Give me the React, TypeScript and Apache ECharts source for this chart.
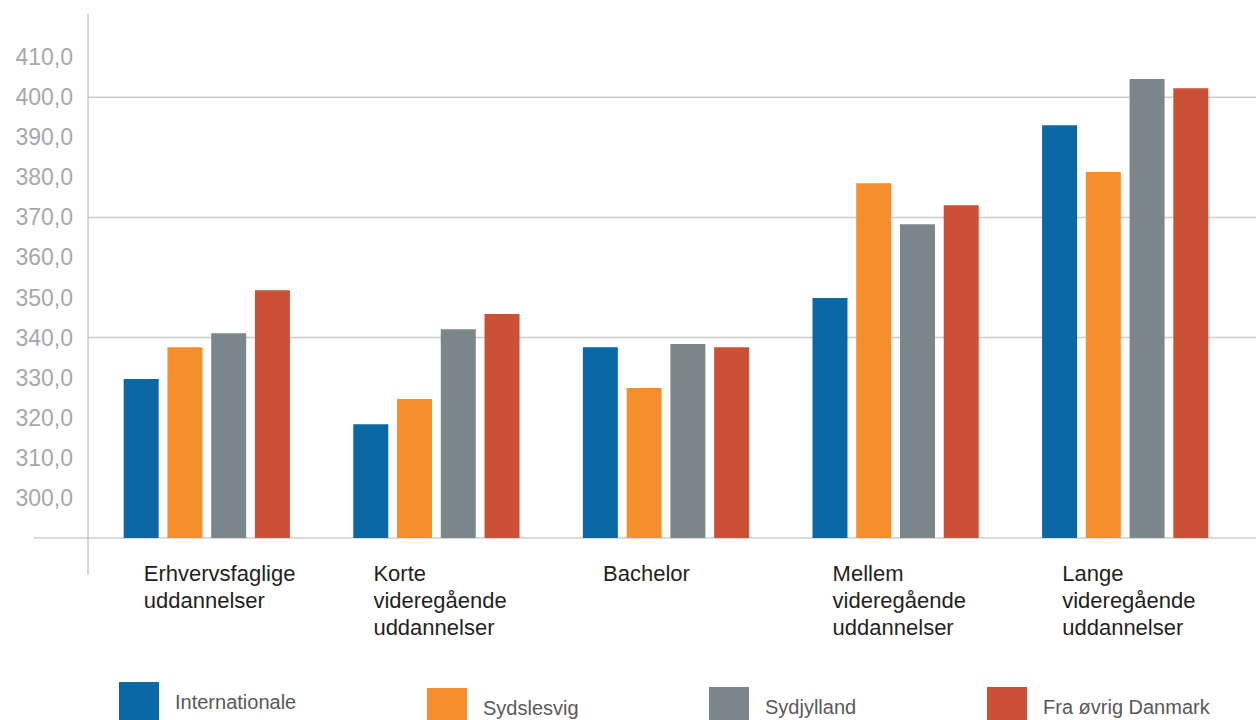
import React, { useEffect, useRef } from "react";
import * as echarts from "echarts";

const categories = [
  "Erhvervsfaglige\nuddannelser",
  "Korte\nvideregående\nuddannelser",
  "Bachelor",
  "Mellem\nvideregående\nuddannelser",
  "Lange\nvideregående\nuddannelser",
];
const seriesNames = ["Internationale", "Sydslesvig", "Sydjylland", "Fra øvrig Danmark"];
const internationale = [329.7, 318.4, 337.6, 349.9, 393.0];
const sydslesvig = [337.6, 324.7, 327.4, 378.5, 381.3];
const sydjylland = [341.1, 342.1, 338.4, 368.3, 404.5];
const fraOevrigDanmark = [351.8, 345.9, 337.6, 373.0, 402.2];
const colors = ["#0a69a5", "#f58f2e", "#7c878c", "#cc5035"];
const gridValues = [340, 370, 400];
const yMin = 290;
const yMax = 420;

const FONT = "'Liberation Sans', Arial, Helvetica, sans-serif";

export default function App() {
  const ref = useRef<HTMLDivElement>(null);

  useEffect(() => {
    if (!ref.current) return;
    const chart = echarts.init(ref.current, null, { renderer: "svg" });
    const values = [internationale, sydslesvig, sydjylland, fraOevrigDanmark];
    const legendPos = [
      { left: 119, top: 682 },
      { left: 427, top: 688 },
      { left: 709, top: 687 },
      { left: 987, top: 687 },
    ];
    const option: any = {
      animation: false,
      backgroundColor: "#ffffff",
      textStyle: { fontFamily: FONT },
      grid: [
        { left: 92, width: 1148, top: 17, bottom: 182, containLabel: false },
        { left: 29, width: 1148, top: 17, bottom: 182, containLabel: false },
      ],
      xAxis: [
        {
          type: "category",
          gridIndex: 0,
          data: categories,
          axisLine: { show: false },
          axisTick: { show: false },
          axisLabel: { show: false },
        },
        {
          type: "category",
          gridIndex: 1,
          data: categories,
          axisLine: { show: false },
          axisTick: { show: false },
          axisLabel: {
            show: true,
            align: "left",
            verticalAlign: "top",
            margin: 22,
            fontSize: 22,
            lineHeight: 27,
            color: "#231f20",
            fontFamily: FONT,
            interval: 0,
          },
        },
      ],
      yAxis: [
        {
          type: "value",
          gridIndex: 0,
          min: yMin,
          max: yMax,
          interval: 10,
          axisLine: { show: false },
          axisTick: { show: false },
          splitLine: { show: false },
          axisLabel: {
            margin: 19,
            fontSize: 23,
            color: "#a8a8aa",
            fontFamily: FONT,
            formatter: (v: number) =>
              v === yMin || v === yMax ? "" : v.toFixed(1).replace(".", ","),
          },
        },
        {
          type: "value",
          gridIndex: 1,
          show: false,
          min: 0,
          max: 1,
        },
      ],
      legend: seriesNames.map((name, i) => ({
        data: [name],
        left: legendPos[i].left,
        top: legendPos[i].top,
        orient: "horizontal",
        itemWidth: 40,
        itemHeight: 40,
        icon: "rect",
        selectedMode: false,
        padding: 0,
        textStyle: {
          fontSize: 20,
          color: "#595959",
          fontFamily: FONT,
          padding: [0, 0, 0, 11],
        },
      })),
      series: seriesNames.map((name, i) => ({
        name,
        type: "bar",
        xAxisIndex: 0,
        yAxisIndex: 0,
        data: values[i],
        barWidth: 35,
        barGap: "25%",
        itemStyle: { color: colors[i] },
      })),
    };
    chart.setOption(option);

    const yPix = (v: number) => chart.convertToPixel({ yAxisIndex: 0 }, v) as number;
    const graphics: any[] = gridValues.map((v) => ({
      type: "line",
      z: 0,
      shape: { x1: 88, y1: yPix(v), x2: 1256, y2: yPix(v) },
      style: { stroke: "#cccccc", lineWidth: 1.5 },
      silent: true,
    }));
    graphics.push({
      type: "line",
      z: 0,
      shape: { x1: 34, y1: yPix(yMin), x2: 1256, y2: yPix(yMin) },
      style: { stroke: "#cfcfcf", lineWidth: 1.5 },
      silent: true,
    });
    graphics.push({
      type: "line",
      z: 0,
      shape: { x1: 88, y1: 14, x2: 88, y2: 575 },
      style: { stroke: "#b0b0b0", lineWidth: 1 },
      silent: true,
    });
    chart.setOption({ graphic: graphics });

    return () => {
      chart.dispose();
    };
  }, []);

  return (
    <div
      ref={ref}
      style={{ position: "fixed", left: 0, top: 0, width: 1256, height: 720 }}
    />
  );
}
